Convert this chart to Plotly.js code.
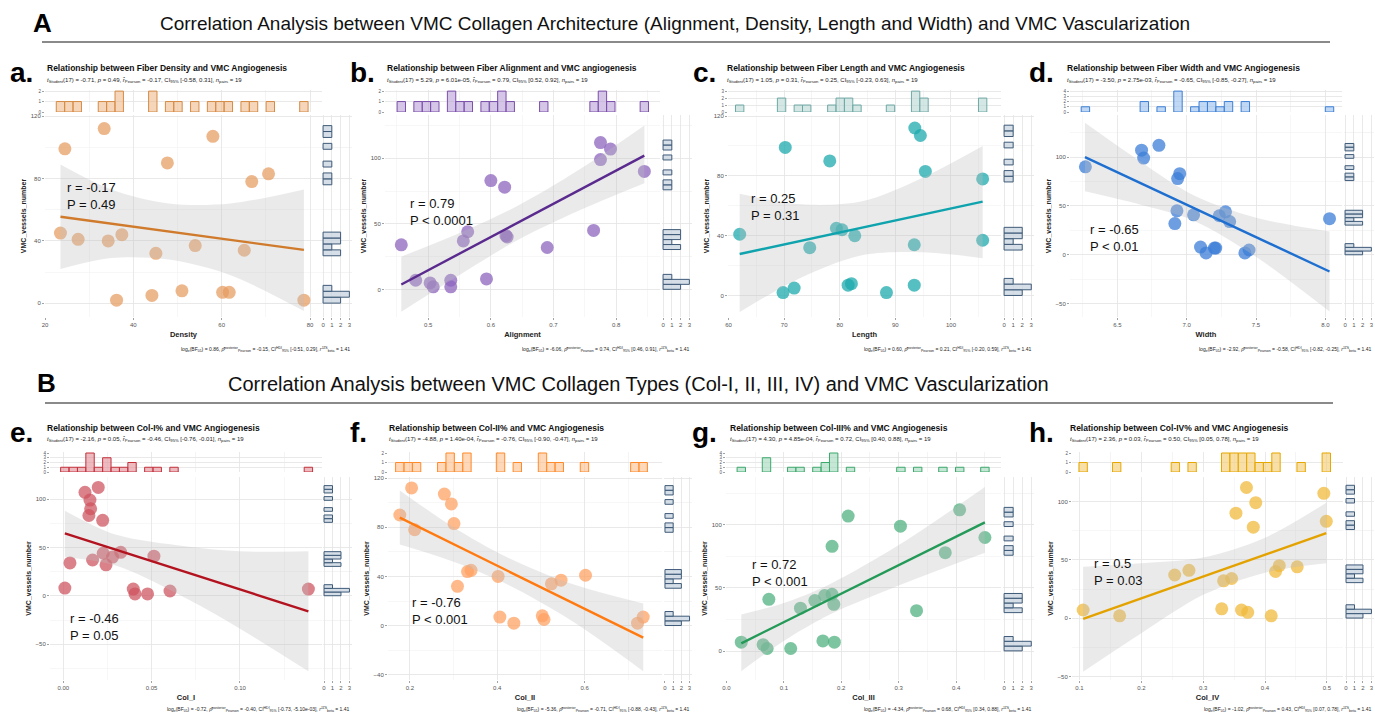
<!DOCTYPE html>
<html><head><meta charset="utf-8">
<script src="https://cdn.plot.ly/plotly-3.0.1.min.js"></script>
<style>html,body{margin:0;padding:0;background:#fff}#chart{width:1375px;height:712px}</style>
</head><body><div id="chart"></div>
<script>
// ---------- data ----------
const vessels = [112,107,99,90,83,78,45,44,41,40,37,34,32,8,7,7,5,2,2];
const density = [33.4,58.0,24.5,47.7,70.6,66.8,23.5,37.4,27.5,34.3,54.0,65.1,45.1,51.0,60.2,61.7,44.2,36.2,78.6];
const alignment = [0.775,0.791,0.775,0.845,0.600,0.622,0.764,0.563,0.624,0.626,0.556,0.457,0.690,0.593,0.536,0.480,0.503,0.508,0.536];
const fiberLength = [93.5,94.5,70.2,78.2,95.4,105.7,79.4,80.4,62.0,82.7,105.7,93.4,74.6,82.1,81.5,93.4,71.8,69.8,88.4];
const fiberWidth = [6.80,6.675,6.69,6.27,6.95,6.935,6.93,7.28,7.05,7.235,8.03,7.31,6.915,7.10,7.20,7.21,7.45,7.14,7.42];
const colI = [0.0198,0.0123,0.0151,0.0155,0.0145,0.0223,0.0325,0.0226,0.0513,0.0279,0.0166,0.0038,0.0242,0.0009,0.0396,0.1387,0.0604,0.0406,0.0477];
const colII = [0.204,0.279,0.295,0.177,0.301,0.211,0.340,0.332,0.602,0.402,0.546,0.524,0.309,0.503,0.406,0.734,0.507,0.438,0.721];
const colIII = [0.406,0.212,0.303,0.450,0.184,0.381,0.184,0.171,0.074,0.154,0.187,0.129,0.331,0.168,0.026,0.188,0.064,0.071,0.112];
const colIV = [0.370,0.495,0.385,0.353,0.499,0.381,0.423,0.452,0.277,0.417,0.254,0.346,0.333,0.330,0.106,0.362,0.372,0.165,0.410];

// regression lines (end points) and 95% CI bands
const fitX = [[23.5,78.6],[0.457,0.845],[62,105.7],[6.267,8.03],[0.0009,0.1387],[0.177,0.734],[0.026,0.450],[0.106,0.499]];
const fitY = [[55.5,34.2],[3.8,102],[27.8,62.8],[100,-17],[64.5,-16],[87.8,-9.8],[6.1,102],[-0.6,72.9]];
const bandX = [[23.5,35,48,62,78.6],[0.457,0.55,0.64,0.74,0.845],[62,73,84,95,105.7],[6.267,6.65,7.05,7.5,8.03],
               [0.0009,0.03,0.07,0.10,0.1387],[0.177,0.30,0.42,0.57,0.734],[0.026,0.10,0.18,0.30,0.450],[0.106,0.20,0.30,0.40,0.499]];
const bandHi = [[89,73,64,64,73],[25,43,63,91,125],[68,61,63,79,100],[135,97,61,38,24],
                [88,63,51,46,46],[110,80,56,34,18],[29,38,53,84,130],[44,47,52,69,99]];
const bandLo = [[22,29,28,18,-5],[-17,11,37,60,81],[-11,12,27,29,25],[65,52,35,-2,-58],
                [40,31,-3,-34,-78],[66,52,34,4,-37],[-16,8,29,52,78],[-46,-13,20,39,47]];

// text
const panelIds = ['a','b','c','d','e','f','g','h'];
const xLabels = ['Density','Alignment','Length','Width','Col_I','Col_II','Col_III','Col_IV'];
const panelTitles = ['Relationship between Fiber Density and VMC Angiogenesis','Relationship between Fiber Alignment and VMC angiogenesis',
  'Relationship between Fiber Length and VMC Angiogenesis','Relationship between Fiber Width and VMC Angiogenesis',
  'Relationship between Col-I% and VMC Angiogenesis','Relationship between Col-II% and VMC Angiogenesis',
  'Relationship between Col-III% and VMC Angiogenesis','Relationship between Col-IV% and VMC Angiogenesis'];
const tStud = ['-0.71','5.29','1.05','-3.50','-2.16','-4.88','4.30','2.36'];
const pVals = ['0.49','6.01e-05','0.31','2.75e-03','0.05','1.40e-04','4.85e-04','0.03'];
const rPear = ['-0.17','0.79','0.25','-0.65','-0.46','-0.76','0.72','0.50'];
const ci95 = ['[-0.58, 0.31]','[0.52, 0.92]','[-0.23, 0.63]','[-0.85, -0.27]','[-0.76, -0.01]','[-0.90, -0.47]','[0.40, 0.88]','[0.05, 0.78]'];
const logBF = ['0.86','-6.06','0.60','-2.92','-0.72','-5.36','-4.34','-1.02'];
const rhoPost = ['-0.15','0.74','0.21','-0.58','-0.40','-0.71','0.68','0.43'];
const ciHDI = ['[-0.51, 0.29]','[0.46, 0.91]','[-0.20, 0.59]','[-0.82, -0.25]','[-0.73, -5.10e-03]','[-0.88, -0.43]','[0.34, 0.88]','[0.07, 0.78]'];
const statR = ['r = -0.17','r = 0.79','r = 0.25','r = -0.65','r = -0.46','r = -0.76','r = 0.72','r = 0.5'];
const statP = ['P = 0.49','P &lt; 0.0001','P = 0.31','P &lt; 0.01','P = 0.05','P &lt; 0.001','P &lt; 0.001','P = 0.03'];

const xData = [density, alignment, fiberLength, fiberWidth, colI, colII, colIII, colIV];

// ---------- layout / style config ----------
const W = 1375, H = 712;
const fx = px => px / W, fy = py => 1 - py / H;
const rows = [
  {hist:[90,112], main:[115,317], title:68, sub:80, cap:349, label:72},
  {hist:[452,472], main:[477,680], title:428, sub:440, cap:709, label:432}
];
const geo = [
  {row:0, L:45,  R:322,  rL:322,  rR:352,  lx:8,    tx:45,   xr:[20.0,82.7],   yr:[-8.8,120.7], xdt:20,   xt0:20,  xf:'',    ydt:40, sp:[24.5,68.6]},
  {row:0, L:385, R:660,  rL:662,  rR:692,  lx:348,  tx:385,  xr:[0.431,0.870], yr:[-21,133],    xdt:0.1,  xt0:0.5, xf:'.1f',  ydt:50, sp:[0.468,58.7]},
  {row:0, L:728, R:1001, rL:1003, rR:1034, lx:691,  tx:725,  xr:[59.9,109],    yr:[-14.3,120.7],xdt:10,   xt0:60,  xf:'',    ydt:40, sp:[63.7,59.5]},
  {row:0, L:1070,R:1342, rL:1344, rR:1374, lx:1027, tx:1065, xr:[6.159,8.12],  yr:[-63.5,143],  xdt:0.5,  xt0:6.5, xf:'.1f',  ydt:50, sp:[6.29,17.6]},
  {row:1, L:50,  R:322,  rL:323,  rR:352,  lx:8,    tx:45,   xr:[-0.0075,0.1464], yr:[-87,122.8], xdt:0.05, xt0:0,   xf:'.2f',  ydt:50, sp:[0.0028,-32]},
  {row:1, L:388, R:662,  rL:664,  rR:692,  lx:348,  tx:387,  xr:[0.150,0.777], yr:[-44.2,120.9], xdt:0.2,  xt0:0.2, xf:'.1f',  ydt:40, sp:[0.2,12]},
  {row:1, L:726, R:1001, rL:1003, rR:1034, lx:690,  tx:728,  xr:[-0.0006,0.478], yr:[-23,138],  xdt:0.1,  xt0:0,   xf:'.1f',  ydt:50, sp:[0.041,61.7]},
  {row:1, L:1072,R:1343, rL:1345, rR:1374, lx:1027, tx:1068, xr:[0.088,0.526], yr:[-53,121],    xdt:0.1,  xt0:0.1, xf:'.1f',  ydt:50, sp:[0.12,39.3]}
];
const colors = [
  {pt:'rgba(230,155,95,0.72)',  ln:'#D07A2C', hf:'rgba(238,180,130,0.55)', hl:'#D58A45'},
  {pt:'rgba(140,100,190,0.75)', ln:'#5A2A8E', hf:'rgba(185,160,215,0.6)',  hl:'#7A4EAA'},
  {pt:'rgba(30,170,172,0.75)',  ln:'#0FA3AE', hf:'rgba(185,215,212,0.6)',  hl:'#6EA9A5'},
  {pt:'rgba(60,125,215,0.75)',  ln:'#1E6FD0', hf:'rgba(160,195,238,0.65)', hl:'#3C7FD5'},
  {pt:'rgba(205,80,92,0.72)',   ln:'#B3121F', hf:'rgba(225,140,148,0.6)',  hl:'#C3303C'},
  {pt:'rgba(255,160,95,0.72)',  ln:'#FF7A10', hf:'rgba(255,190,140,0.6)',  hl:'#FF8A2A'},
  {pt:'rgba(80,178,128,0.75)',  ln:'#249A58', hf:'rgba(160,215,185,0.6)',  hl:'#3CA86C'},
  {pt:'rgba(240,185,60,0.75)',  ln:'#E3A200', hf:'rgba(245,205,120,0.65)', hl:'#E5A800'}
];

const FONT = 'Liberation Sans, Arial, Helvetica, sans-serif';
const GRID = '#e4e4e4', MINOR = '#f1f1f1';
const ax = n => (n === 1 ? 'x' : 'x' + n), ay = n => (n === 1 ? 'y' : 'y' + n);
const lk = (p, n) => p + (n === 1 ? '' : n);

const data = [];
const layout = {
  width: W, height: H, margin: {l:0, r:0, t:0, b:0},
  paper_bgcolor: '#fff', plot_bgcolor: '#fff', showlegend: false,
  font: {family: FONT, color: '#222'}, bargap: 0,
  annotations: [], shapes: []
};

// vertical-histogram bins for vessels
const vMin = Math.min(...vessels), vMax = Math.max(...vessels), vSize = (vMax - vMin) / 29;

xData.forEach((xs, i) => {
  const g = geo[i], row = rows[g.row], c = colors[i];
  const m = 3*i + 1, t = 3*i + 2, r = 3*i + 3;
  const mn = Math.min(...xs), mx = Math.max(...xs), bs = (mx - mn) / 29;

  // points
  data.push({type:'scatter', mode:'markers', x: xs, y: vessels, xaxis: ax(m), yaxis: ay(m),
    marker: {size: 13, color: c.pt, line: {width: 0}}, hoverinfo: 'skip'});
  // CI band (drawn over the points, as in the figure)
  data.push({type:'scatter', mode:'lines', x: bandX[i], y: bandLo[i], xaxis: ax(m), yaxis: ay(m),
    line: {width: 0, shape: 'spline', smoothing: 0.9}, hoverinfo: 'skip'});
  data.push({type:'scatter', mode:'lines', x: bandX[i], y: bandHi[i], xaxis: ax(m), yaxis: ay(m),
    line: {width: 0, shape: 'spline', smoothing: 0.9}, fill: 'tonexty', fillcolor: 'rgba(190,190,190,0.32)', hoverinfo: 'skip'});
  // regression line
  data.push({type:'scatter', mode:'lines', x: fitX[i], y: fitY[i], xaxis: ax(m), yaxis: ay(m),
    line: {color: c.ln, width: 2.4}, hoverinfo: 'skip'});
  // top marginal histogram
  data.push({type:'histogram', x: xs, xaxis: ax(t), yaxis: ay(t),
    xbins: {start: mn - bs/2, end: mx + bs/2, size: bs},
    marker: {color: c.hf, line: {color: c.hl, width: 1}}, hoverinfo: 'skip'});
  // right marginal histogram
  data.push({type:'histogram', y: vessels, xaxis: ax(r), yaxis: ay(r),
    ybins: {start: vMin - vSize/2, end: vMax + vSize/2, size: vSize},
    marker: {color: 'rgba(200,212,224,0.75)', line: {color: '#3E5A78', width: 1}}, hoverinfo: 'skip'});

  const tickCommon = {ticks: 'outside', ticklen: 2, tickwidth: 0.6, tickcolor: '#666',
    tickfont: {size: 6, color: '#555', family: FONT}, zeroline: false, showline: false,
    showgrid: true, gridcolor: GRID, gridwidth: 0.8};

  // main axes
  layout[lk('xaxis', m)] = Object.assign({}, tickCommon, {
    domain: [fx(g.L), fx(g.R)], range: g.xr, anchor: ay(m), dtick: g.xdt, tick0: g.xt0, tickformat: g.xf,
    minor: {dtick: g.xdt/2, tick0: g.xt0, showgrid: true, gridcolor: MINOR, gridwidth: 0.6},
    title: {text: '<b>' + xLabels[i] + '</b>', font: {size: 7.5, color: '#222', family: FONT}, standoff: 4}
  });
  layout[lk('yaxis', m)] = Object.assign({}, tickCommon, {
    domain: [fy(row.main[1]), fy(row.main[0])], range: g.yr, anchor: ax(m), dtick: g.ydt, tick0: 0,
    minor: {dtick: g.ydt/2, tick0: 0, showgrid: true, gridcolor: MINOR, gridwidth: 0.6},
    title: {text: '<b>VMC_vessels_number</b>', font: {size: 7, color: '#222', family: FONT}, standoff: 3}
  });
  // top histogram axes
  layout[lk('xaxis', t)] = Object.assign({}, tickCommon, {
    domain: [fx(g.L), fx(g.R)], range: g.xr, anchor: ay(t), dtick: g.xdt, tick0: g.xt0,
    minor: {dtick: g.xdt/2, tick0: g.xt0, showgrid: true, gridcolor: MINOR},
    showticklabels: false, ticks: ''
  });
  layout[lk('yaxis', t)] = Object.assign({}, tickCommon, {
    domain: [fy(row.hist[1]), fy(row.hist[0])], anchor: ax(t), rangemode: 'tozero', dtick: 1,
    tickfont: {size: 4.5, color: '#555', family: FONT}
  });
  // right histogram axes
  layout[lk('xaxis', r)] = Object.assign({}, tickCommon, {
    domain: [fx(g.rL), fx(g.rR)], range: [-0.12, 3.3], anchor: ay(r), dtick: 1, tick0: 0
  });
  layout[lk('yaxis', r)] = Object.assign({}, tickCommon, {
    domain: [fy(row.main[1]), fy(row.main[0])], range: g.yr, anchor: ax(r), dtick: g.ydt, tick0: 0,
    minor: {dtick: g.ydt/2, tick0: 0, showgrid: true, gridcolor: MINOR},
    showticklabels: false, ticks: ''
  });

  // annotations
  const A = layout.annotations;
  A.push({xref:'paper', yref:'paper', x: fx(g.lx), y: fy(row.label), xanchor:'left', yanchor:'middle',
    text: '<b>' + panelIds[i] + '.</b>', font: {size: 28, color: '#000', family: FONT}, showarrow: false});
  A.push({xref:'paper', yref:'paper', x: fx(g.tx), y: fy(row.title), xanchor:'left', yanchor:'middle',
    text: '<b>' + panelTitles[i] + '</b>', font: {size: 8.5, color: '#111', family: FONT}, showarrow: false});
  A.push({xref:'paper', yref:'paper', x: fx(g.tx), y: fy(row.sub), xanchor:'left', yanchor:'middle',
    text: '<i>t</i><sub>Student</sub>(17) = ' + tStud[i] + ', <i>p</i> = ' + pVals[i] + ', <i>r\u0302</i><sub>Pearson</sub> = ' + rPear[i] +
          ', CI<sub>95%</sub> ' + ci95[i] + ', <i>n</i><sub>pairs</sub> = 19',
    font: {size: 6, color: '#222', family: FONT}, showarrow: false});
  A.push({xref: ax(m), yref: ay(m), x: g.sp[0], y: g.sp[1], xanchor:'left', yanchor:'middle', align:'left',
    text: statR[i] + '<br>' + statP[i], font: {size: 13, color: '#111', family: FONT}, showarrow: false});
  A.push({xref:'paper', yref:'paper', x: fx(g.rR), y: fy(row.cap), xanchor:'right', yanchor:'middle',
    text: 'log<sub>e</sub>(BF<sub>01</sub>) = ' + logBF[i] + ', <i>\u03C1\u0302</i><sup>posterior</sup><sub>Pearson</sub> = ' + rhoPost[i] +
          ', CI<sup>HDI</sup><sub>95%</sub> ' + ciHDI[i] + ', <i>r</i><sup>JZS</sup><sub>beta</sub> = 1.41',
    font: {size: 5, color: '#222', family: FONT}, showarrow: false});
});

// section headers
layout.annotations.push(
  {xref:'paper', yref:'paper', x: fx(31), y: fy(23), xanchor:'left', yanchor:'middle', text:'<b>A</b>',
   font:{size: 26, color:'#000', family: FONT}, showarrow:false},
  {xref:'paper', yref:'paper', x: fx(675), y: fy(24), xanchor:'center', yanchor:'middle',
   text:'Correlation Analysis between VMC Collagen Architecture (Alignment, Density, Length and Width) and VMC Vascularization',
   font:{size: 19, color:'#111', family: FONT}, showarrow:false},
  {xref:'paper', yref:'paper', x: fx(35), y: fy(383), xanchor:'left', yanchor:'middle', text:'<b>B</b>',
   font:{size: 26, color:'#000', family: FONT}, showarrow:false},
  {xref:'paper', yref:'paper', x: fx(638), y: fy(384), xanchor:'center', yanchor:'middle',
   text:'Correlation Analysis between VMC Collagen Types (Col-I, II, III, IV) and VMC Vascularization',
   font:{size: 20, color:'#111', family: FONT}, showarrow:false}
);
layout.shapes.push(
  {type:'line', xref:'paper', yref:'paper', x0: fx(42), x1: fx(1330), y0: fy(42), y1: fy(42), line:{color:'#8a8a8a', width:2}},
  {type:'line', xref:'paper', yref:'paper', x0: fx(45), x1: fx(1333), y0: fy(403), y1: fy(403), line:{color:'#8a8a8a', width:2}}
);

Plotly.newPlot('chart', data, layout, {staticPlot: true, displayModeBar: false});
</script>
</body></html>
